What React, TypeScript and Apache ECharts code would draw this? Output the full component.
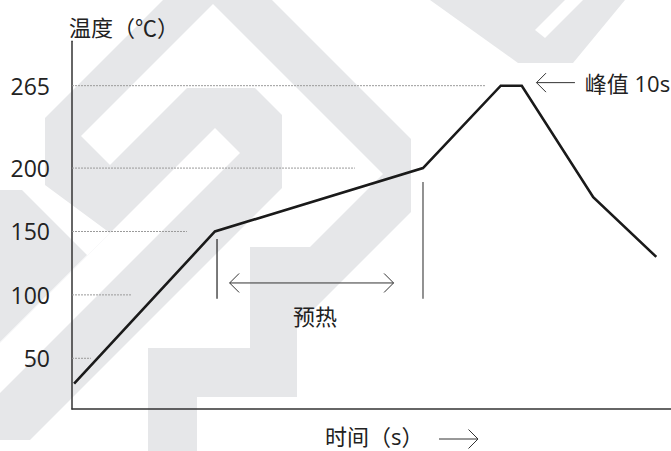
import React, { useEffect, useRef } from "react";
import * as echarts from "echarts";

// ---- data ----
const yTickValues = [50, 100, 150, 200, 265];
const profileTime = [1, 68, 167, 204, 214, 248, 278];
const profileTemp = [30, 150, 200, 265, 265, 177, 130];
const guideLevels = [265, 200, 150, 100, 50];
const guideEnds = [196.5, 134.6, 54.7, 28.5, 9];
const markerTimes = [69, 167];
const markerTop = [144, 189];
const markerBottom = [97, 97];
const arrowStart = [75, 221];
const arrowEnd = [153, 239.3];
const arrowLevel = [109.4, 267.4];
const arrowHeads = ["both", "start"];
const noteTexts = ["预热", "峰值 10s"];
const noteTime = [115.6, 244];
const noteTemp = [83.4, 267.4];
const noteAlign = ["center", "left"];
const yTitle = "温度（℃）";
const xTitle = "时间（s）";

const FONT = '"Open Sans", "Noto Sans CJK SC", sans-serif';
const GREY = "#e6e7e9";

const wm: number[][][] = [
  [[163,0],[272,0],[411,139],[411,212],[297,326],[297,397],[197,397],[197,451],[148,451],[148,348],[250,348],[250,247],[310,247],[383,174],[213,4],[81,136],[110,165],[110,233],[45,185],[45,118]],
  [[110,165],[187,88],[255,88],[282,115],[282,188],[30,440],[0,440],[0,343],[87,256],[110,233]],
  [[0,190],[22,190],[87,255],[0,342]],
  [[430,0],[518,63],[573,63],[625,0]],
];
const wmWhite: number[][][] = [
  [[215,128],[240,153],[0,393],[0,343]],
  [[535,30],[545,38],[583,0],[565,0]],
];

export default function App() {
  const ref = useRef<HTMLDivElement>(null);
  useEffect(() => {
    document.body.style.margin = "0";
    const chart = echarts.init(ref.current!, null, { renderer: "svg" });
    const series: any[] = [];
    guideLevels.forEach((lvl, i) => {
      series.push({
        type: "line", silent: true, symbol: "none", z: 1,
        data: [[0, lvl], [guideEnds[i], lvl]],
        lineStyle: { color: "#9a9a9a", width: 1, type: [2, 1] },
      });
    });
    markerTimes.forEach((t, i) => {
      series.push({
        type: "line", silent: true, symbol: "none", z: 2,
        data: [[t, markerTop[i]], [t, markerBottom[i]]],
        lineStyle: { color: i === 0 ? "#222" : "#777", width: i === 0 ? 1.2 : 1.6 },
      });
    });
    series.push({
      type: "line", symbol: "none", z: 3,
      data: profileTime.map((t, i) => [t, profileTemp[i]]),
      lineStyle: { color: "#1a1a1a", width: 2.6, join: "miter" },
    });
    series.push({
      type: "custom", z: 3, silent: true,
      data: arrowStart.map((s, i) => [s, arrowEnd[i], arrowLevel[i]]),
      encode: { x: [0, 1], y: 2 },
      renderItem: (params: any, api: any) => {
        const i = params.dataIndex;
        const a = api.coord([api.value(0), api.value(2)]);
        const b = api.coord([api.value(1), api.value(2)]);
        const st = { stroke: "#333", lineWidth: 1, fill: "none" };
        const ch: any[] = [{ type: "line", shape: { x1: a[0], y1: a[1], x2: b[0], y2: b[1] }, style: st }];
        const h = 9.5;
        if (arrowHeads[i] === "both" || arrowHeads[i] === "start") {
          ch.push({ type: "polyline", shape: { points: [[a[0] + h, a[1] - h], a, [a[0] + h, a[1] + h]] }, style: st });
        }
        if (arrowHeads[i] === "both" || arrowHeads[i] === "end") {
          ch.push({ type: "polyline", shape: { points: [[b[0] - h, b[1] - h], b, [b[0] - h, b[1] + h]] }, style: st });
        }
        return { type: "group", children: ch };
      },
    });
    series.push({
      type: "custom", z: 3, silent: true,
      data: noteTime.map((t, i) => [t, noteTemp[i]]),
      renderItem: (params: any, api: any) => {
        const i = params.dataIndex;
        const p = api.coord([api.value(0), api.value(1)]);
        return {
          type: "text", x: p[0], y: p[1],
          style: {
            text: noteTexts[i], font: `22px ${FONT}`, fill: "#222", lineHeight: 22,
            textAlign: noteAlign[i], textVerticalAlign: "middle",
            align: noteAlign[i], verticalAlign: "middle",
          },
        };
      },
    });

    const graphic: any[] = [];
    wm.forEach((pts) => graphic.push({ type: "polygon", silent: true, z: -20, shape: { points: pts }, style: { fill: GREY } }));
    wmWhite.forEach((pts) => graphic.push({ type: "polygon", silent: true, z: -19, shape: { points: pts }, style: { fill: "#fff" } }));
    graphic.push({ type: "text", x: 69, y: 27, z: 5, style: { text: yTitle, font: `22px ${FONT}`, lineHeight: 22, fill: "#222", textVerticalAlign: "middle", verticalAlign: "middle" } });
    graphic.push({ type: "text", x: 325, y: 436, z: 5, style: { text: xTitle, font: `22px ${FONT}`, lineHeight: 22, fill: "#222", textVerticalAlign: "middle", verticalAlign: "middle" } });
    graphic.push({ type: "polyline", z: 5, shape: { points: [[439, 439], [478, 439]] }, style: { stroke: "#333", lineWidth: 1, fill: "none" } });
    graphic.push({ type: "polyline", z: 5, shape: { points: [[468.5, 429.5], [478, 439], [468.5, 448.5]] }, style: { stroke: "#333", lineWidth: 1, fill: "none" } });

    chart.setOption({
      animation: false,
      grid: { left: 72, right: 0, top: 41.3, bottom: 42 },
      xAxis: {
        type: "value", min: 0, max: 285,
        axisLine: { show: true, lineStyle: { color: "#333", width: 1.5 } },
        axisTick: { show: false }, axisLabel: { show: false }, splitLine: { show: false },
      },
      yAxis: {
        type: "value", min: 10, max: 300,
        axisLine: { show: true, lineStyle: { color: "#333", width: 1.5 } },
        axisTick: { show: false }, splitLine: { show: false },
        axisLabel: { customValues: yTickValues, margin: 22, fontSize: 23, fontFamily: "Open Sans", color: "#222" },
      },
      graphic,
      series,
    });
    return () => chart.dispose();
  }, []);
  return <div ref={ref} style={{ width: 671, height: 451 }} />;
}
